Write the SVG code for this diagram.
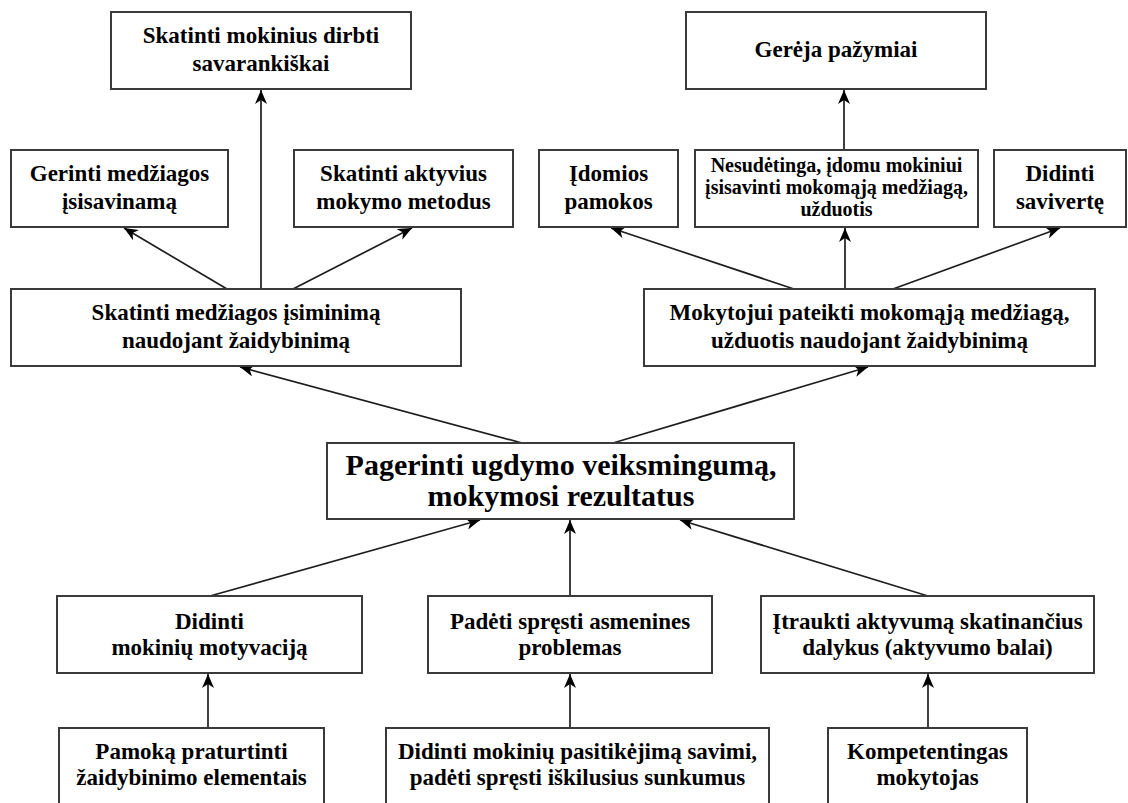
<svg xmlns="http://www.w3.org/2000/svg" width="1128" height="803" viewBox="0 0 1128 803">
  <style>
    .box { fill: #ffffff; stroke: #3a3a3a; stroke-width: 2; }
    .lbl { font-family: "Liberation Serif", "Times New Roman", serif; font-weight: bold; font-size: 23px; fill: #000000; text-anchor: middle; }
    .sm { font-size: 20px; }
    .lg { font-size: 30px; }
    .edge { fill: none; stroke: #1e1e1e; stroke-width: 1.7; marker-end: url(#arrow); }
  </style>
  <defs>
    <marker id="arrow" viewBox="0 0 14 12" refX="14" refY="6" markerWidth="14" markerHeight="12" markerUnits="userSpaceOnUse" orient="auto">
      <path d="M0,0 L14,6 L0,12 L4,6 z" fill="#000000"/>
    </marker>
  </defs>
  <rect width="1128" height="803" fill="#ffffff"/>

  <!-- connectors -->
  <g id="connectors">
    <line class="edge" x1="261" y1="289" x2="261" y2="90"/>
    <line class="edge" x1="227" y1="289" x2="124" y2="228"/>
    <line class="edge" x1="293" y1="289" x2="412" y2="228"/>
    <line class="edge" x1="844" y1="150" x2="844" y2="90"/>
    <line class="edge" x1="794" y1="289" x2="611" y2="228"/>
    <line class="edge" x1="845" y1="289" x2="845" y2="228"/>
    <line class="edge" x1="893" y1="289" x2="1060" y2="228"/>
    <line class="edge" x1="522" y1="443" x2="240" y2="367"/>
    <line class="edge" x1="613" y1="443" x2="868" y2="367"/>
    <line class="edge" x1="210" y1="596" x2="480" y2="520"/>
    <line class="edge" x1="570" y1="596" x2="570" y2="520"/>
    <line class="edge" x1="928" y1="596" x2="680" y2="520"/>
    <line class="edge" x1="208" y1="728" x2="208" y2="674"/>
    <line class="edge" x1="570" y1="728" x2="570" y2="674"/>
    <line class="edge" x1="928" y1="728" x2="928" y2="674"/>
  </g>

  <!-- top row -->
  <g id="n-savarankiskai">
    <rect class="box" x="111" y="12" width="300" height="77"/>
    <text class="lbl" x="261" y="43">Skatinti mokinius dirbti</text>
    <text class="lbl" x="261" y="71">savarankiškai</text>
  </g>
  <g id="n-pazymiai">
    <rect class="box" x="686" y="12" width="300" height="77"/>
    <text class="lbl" x="836" y="57">Gerėja pažymiai</text>
  </g>

  <!-- second row -->
  <g id="n-gerinti">
    <rect class="box" x="11" y="150" width="217" height="77"/>
    <text class="lbl" x="119.5" y="181">Gerinti medžiagos</text>
    <text class="lbl" x="119.5" y="209">įsisavinamą</text>
  </g>
  <g id="n-aktyvius">
    <rect class="box" x="294" y="150" width="219" height="77"/>
    <text class="lbl" x="403.5" y="181">Skatinti aktyvius</text>
    <text class="lbl" x="403.5" y="209">mokymo metodus</text>
  </g>
  <g id="n-idomios">
    <rect class="box" x="539" y="150" width="139" height="77"/>
    <text class="lbl" x="608.5" y="181">Įdomios</text>
    <text class="lbl" x="608.5" y="209">pamokos</text>
  </g>
  <g id="n-nesudetinga">
    <rect class="box" x="695" y="150" width="283" height="77"/>
    <text class="lbl sm" x="836.5" y="172">Nesudėtinga, įdomu mokiniui</text>
    <text class="lbl sm" x="836.5" y="194">įsisavinti mokomąją medžiagą,</text>
    <text class="lbl sm" x="836.5" y="216">užduotis</text>
  </g>
  <g id="n-saviverte">
    <rect class="box" x="994" y="150" width="132" height="77"/>
    <text class="lbl" x="1060" y="181">Didinti</text>
    <text class="lbl" x="1060" y="209">savivertę</text>
  </g>

  <!-- third row -->
  <g id="n-isiminima">
    <rect class="box" x="11" y="289" width="450" height="77"/>
    <text class="lbl" x="236" y="320">Skatinti medžiagos įsiminimą</text>
    <text class="lbl" x="236" y="348">naudojant žaidybinimą</text>
  </g>
  <g id="n-mokytojui">
    <rect class="box" x="644" y="289" width="451" height="77"/>
    <text class="lbl" x="869.5" y="320">Mokytojui pateikti mokomąją medžiagą,</text>
    <text class="lbl" x="869.5" y="348">užduotis naudojant žaidybinimą</text>
  </g>

  <!-- central goal -->
  <g id="n-pagerinti">
    <rect class="box" x="327" y="443" width="467" height="76"/>
    <text class="lbl lg" x="561" y="475">Pagerinti ugdymo veiksmingumą,</text>
    <text class="lbl lg" x="561" y="506">mokymosi rezultatus</text>
  </g>

  <!-- fourth row -->
  <g id="n-motyvacija">
    <rect class="box" x="57" y="596" width="305" height="77"/>
    <text class="lbl" x="209.5" y="629">Didinti</text>
    <text class="lbl" x="209.5" y="655">mokinių motyvaciją</text>
  </g>
  <g id="n-problemos">
    <rect class="box" x="428" y="596" width="284" height="77"/>
    <text class="lbl" x="570" y="629">Padėti spręsti asmenines</text>
    <text class="lbl" x="570" y="655">problemas</text>
  </g>
  <g id="n-aktyvumas">
    <rect class="box" x="761" y="596" width="333" height="77"/>
    <text class="lbl" x="927.5" y="629">Įtraukti aktyvumą skatinančius</text>
    <text class="lbl" x="927.5" y="655">dalykus (aktyvumo balai)</text>
  </g>

  <!-- bottom row -->
  <g id="n-pamoka">
    <rect class="box" x="59" y="728" width="265" height="90"/>
    <text class="lbl" x="191.5" y="759">Pamoką praturtinti</text>
    <text class="lbl" x="191.5" y="785">žaidybinimo elementais</text>
  </g>
  <g id="n-pasitikejimas">
    <rect class="box" x="386" y="728" width="383" height="90"/>
    <text class="lbl" x="577.5" y="759">Didinti mokinių pasitikėjimą savimi,</text>
    <text class="lbl" x="577.5" y="785">padėti spręsti iškilusius sunkumus</text>
  </g>
  <g id="n-kompetentingas">
    <rect class="box" x="828" y="728" width="199" height="90"/>
    <text class="lbl" x="927.5" y="759">Kompetentingas</text>
    <text class="lbl" x="927.5" y="785">mokytojas</text>
  </g>
</svg>
